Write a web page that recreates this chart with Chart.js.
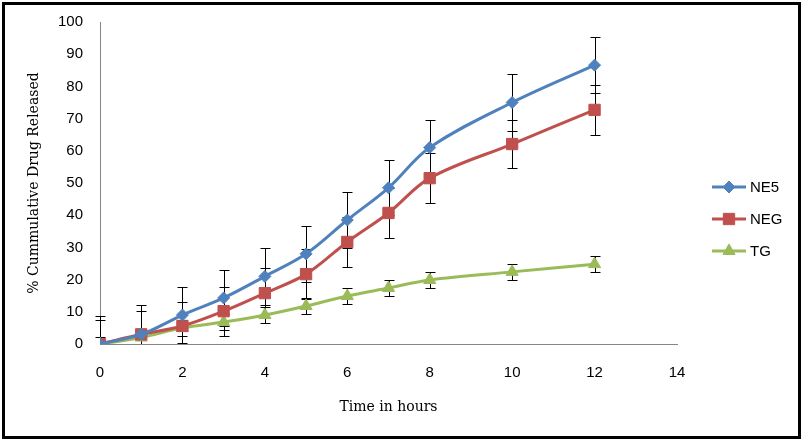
<!DOCTYPE html>
<html>
<head>
<meta charset="utf-8">
<script src="https://cdn.jsdelivr.net/npm/chart.js@4.4.1/dist/chart.umd.min.js"></script>
<style>
  html,body{margin:0;padding:0;background:#fff;}
  #wrap{position:relative;width:805px;height:443px;}
  #frame{position:absolute;left:2px;top:2px;width:799px;height:437px;box-sizing:border-box;border:3px solid #000;pointer-events:none;}
</style>
</head>
<body>
<div id="wrap">
  <canvas id="c" width="805" height="443"></canvas>
  <div id="frame"></div>
</div>
<script>
// time points (hours)
const hours = [0, 1, 2, 3, 4, 5, 6, 7, 8, 10, 12];
// % cumulative drug released
const ne5 = [0, 3, 9, 14.3, 21, 28, 38.5, 48.5, 61, 75, 86.6];
const neg = [0, 3, 5.6, 10.2, 15.8, 21.7, 31.7, 40.7, 51.5, 62.1, 72.7];
const tg  = [0, 2, 5, 6.8, 9, 11.8, 14.9, 17.4, 19.9, 22.4, 24.8];
// standard deviation (error bars)
const ne5Err = [8.7, 9, 8.7, 8.7, 8.8, 8.6, 8.6, 8.5, 8.5, 8.8, 8.8];
const negErr = [7.5, 7.2, 7.5, 7.6, 7.7, 7.7, 7.8, 7.8, 7.7, 7.4, 7.8];
const tgErr  = [2.2, 2.5, 2.5, 2.5, 2.5, 2.5, 2.5, 2.5, 2.5, 2.5, 2.5];
const seriesNames = ['NE5', 'NEG', 'TG'];

const pts = arr => hours.map((h, i) => ({x: h, y: arr[i]}));

const errorBars = {
  id: 'errorBars',
  beforeDatasetsDraw(chart) {
    const ctx = chart.ctx, xs = chart.scales.x, ys = chart.scales.y, a = chart.chartArea;
    ctx.save();
    ctx.beginPath();
    ctx.rect(a.left - 6, a.top - 6, a.right - a.left + 12, a.bottom - a.top + 6);
    ctx.clip();
    ctx.strokeStyle = '#000';
    ctx.lineWidth = 1;
    chart.data.datasets.forEach(ds => {
      ds.errors.forEach((e, i) => {
        const px = Math.round(xs.getPixelForValue(hours[i])) + 0.5;
        const v = ds.data[i].y;
        const top = Math.round(ys.getPixelForValue(v + e)) + 0.5;
        const bot = Math.round(ys.getPixelForValue(v - e)) + 0.5;
        ctx.beginPath();
        ctx.moveTo(px, top); ctx.lineTo(px, bot);
        ctx.moveTo(px - 5, top); ctx.lineTo(px + 5, top);
        if (v - e >= 0) { ctx.moveTo(px - 5, bot); ctx.lineTo(px + 5, bot); }
        ctx.stroke();
      });
    });
    ctx.restore();
  }
};

const sideLegend = {
  id: 'sideLegend',
  afterDraw(chart) {
    const ctx = chart.ctx;
    ctx.save();
    chart.data.datasets.forEach((ds, i) => {
      const y = 187 + i * 32;
      ctx.strokeStyle = ds.borderColor;
      ctx.lineWidth = 3;
      ctx.beginPath(); ctx.moveTo(712, y); ctx.lineTo(746, y); ctx.stroke();
      ctx.fillStyle = ds.borderColor;
      ctx.lineWidth = 1;
      Chart.helpers.drawPoint(ctx, {pointStyle: ds.pointStyle, radius: ds.pointRadius, borderWidth: 1, rotation: 0}, 729, y);
      ctx.fillStyle = '#000';
      ctx.font = '15px "Liberation Sans", Arial, sans-serif';
      ctx.textBaseline = 'middle';
      ctx.textAlign = 'left';
      ctx.fillText(seriesNames[i], 750, y + 1);
    });
    ctx.restore();
  }
};

function mkSet(label, arr, err, color, style, r) {
  return {
    label, data: pts(arr), errors: err,
    borderColor: color, backgroundColor: color,
    pointBackgroundColor: color, pointBorderColor: color,
    pointStyle: style, pointRadius: r, pointHoverRadius: r, pointBorderWidth: 1,
    borderWidth: 3, tension: 0.35, fill: false
  };
}

new Chart(document.getElementById('c').getContext('2d'), {
  type: 'line',
  data: {
    datasets: [
      mkSet(seriesNames[0], ne5, ne5Err, '#4F81BD', 'rectRot', 6),
      mkSet(seriesNames[1], neg, negErr, '#C0504D', 'rect', 8),
      mkSet(seriesNames[2], tg, tgErr, '#9BBB59', 'triangle', 7)
    ]
  },
  options: {
    responsive: false,
    animation: false,
    devicePixelRatio: 1,
    layout: {padding: {left: 0, right: 128, top: 22, bottom: 0}},
    plugins: {legend: {display: false}, tooltip: {enabled: false}},
    scales: {
      x: {
        type: 'linear', min: 0, max: 14,
        ticks: {stepSize: 2, padding: 20, color: '#000', font: {family: '"Liberation Sans", Arial, sans-serif', size: 15}},
        grid: {display: false, drawTicks: false},
        border: {color: '#868686', width: 1},
        title: {display: true, text: 'Time in hours', color: '#000', padding: {top: 0, bottom: 27},
                font: {family: '"DejaVu Serif", serif', size: 14}},
        afterFit: s => { s.height = 99; }
      },
      y: {
        min: 0, max: 100,
        ticks: {stepSize: 10, padding: 17, color: '#000', font: {family: '"Liberation Sans", Arial, sans-serif', size: 15}},
        grid: {display: false, drawTicks: false},
        border: {color: '#868686', width: 1},
        title: {display: true, text: '% Cummulative Drug Released', color: '#000', padding: {top: 26, bottom: 0},
                font: {family: '"DejaVu Serif", serif', size: 14}},
        afterFit: s => { s.width = 100; s.paddingTop = 0; s.paddingBottom = 0; }
      }
    }
  },
  plugins: [errorBars, sideLegend]
});
</script>
</body>
</html>
